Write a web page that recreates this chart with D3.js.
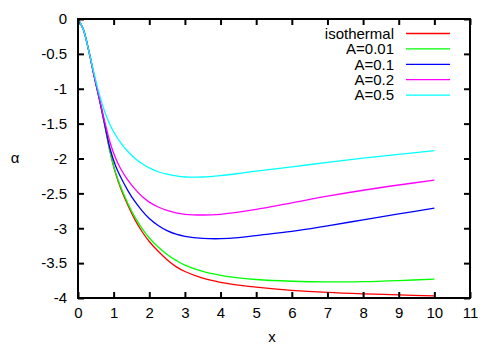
<!DOCTYPE html>
<html>
<head>
<meta charset="utf-8">
<script src="https://cdn.jsdelivr.net/npm/d3@7"></script>
<style>
  html, body { margin: 0; padding: 0; background: #fff; }
  svg text { font-family: "Liberation Sans", Arial, sans-serif; font-size: 15px; fill: #000; }
</style>
</head>
<body>
<svg id="chart" width="498" height="349"></svg>
<script>
/* Données */
var xs         = [0, 0.15, 0.3, 0.45, 0.6, 0.75, 0.9, 1.05, 1.2, 1.4, 1.6, 1.8, 2, 2.25, 2.5, 2.75, 3, 3.5, 4, 4.5, 5, 6, 7, 8, 9, 10];
var isothermal = [0, -0.15, -0.45, -0.81, -1.15, -1.52, -1.905, -2.205, -2.43, -2.67, -2.88, -3.05, -3.19, -3.33, -3.45, -3.55, -3.62, -3.715, -3.775, -3.815, -3.845, -3.89, -3.92, -3.94, -3.955, -3.97];
var a001       = [0, -0.15, -0.45, -0.81, -1.15, -1.52, -1.9, -2.195, -2.41, -2.645, -2.845, -3.005, -3.14, -3.27, -3.375, -3.46, -3.53, -3.62, -3.675, -3.71, -3.735, -3.76, -3.77, -3.765, -3.75, -3.73];
var a01        = [0, -0.15, -0.45, -0.81, -1.15, -1.51, -1.86, -2.1, -2.27, -2.46, -2.62, -2.75, -2.86, -2.96, -3.035, -3.085, -3.115, -3.145, -3.15, -3.135, -3.105, -3.045, -2.965, -2.88, -2.795, -2.71];
var a02        = [0, -0.15, -0.45, -0.81, -1.14, -1.47, -1.77, -1.99, -2.15, -2.31, -2.44, -2.545, -2.625, -2.695, -2.745, -2.78, -2.8, -2.81, -2.8, -2.77, -2.73, -2.635, -2.54, -2.455, -2.38, -2.31];
var a05        = [0, -0.15, -0.45, -0.78, -1.08, -1.33, -1.52, -1.66, -1.775, -1.9, -2.0, -2.075, -2.135, -2.19, -2.225, -2.25, -2.265, -2.265, -2.245, -2.215, -2.18, -2.12, -2.055, -1.995, -1.94, -1.888];

var seriesNames  = ['isothermal', 'A=0.01', 'A=0.1', 'A=0.2', 'A=0.5'];
var seriesValues = [isothermal, a001, a01, a02, a05];
var colors       = ['#ff0000', '#00ff00', '#0000ff', '#ff00ff', '#00ffff'];

var xTicks = d3.range(0, 12, 1);
var yTicks = d3.range(0, -4.5, -0.5);

(function () {
  'use strict';

  var svg = d3.select('#chart');
  var left = 78, right = 470, top = 19, bottom = 298;

  var x = d3.scaleLinear().domain([0, 11]).range([left, right]);
  var y = d3.scaleLinear().domain([-4, 0]).range([bottom, top]);

  /* ── Courbes ───────────────────────────────────────────── */
  var line = d3.line()
    .x(function (d) { return x(d[0]); })
    .y(function (d) { return y(d[1]); })
    .curve(d3.curveCatmullRom.alpha(0.5));

  seriesValues.forEach(function (vals, i) {
    var pts = xs.map(function (xv, j) { return [xv, vals[j]]; });
    svg.append('path')
      .attr('d', line(pts))
      .attr('fill', 'none')
      .attr('stroke', colors[i])
      .attr('stroke-width', 1.3);
  });

  /* ── Axes (ticks vers l'intérieur, miroir haut/droite) ─── */
  var tickLen = 6;
  function fmt(v) { return v === 0 ? '0' : String(v); }

  svg.append('g')
    .attr('transform', 'translate(0,' + bottom + ')')
    .call(d3.axisBottom(x).tickValues(xTicks).tickSizeInner(-tickLen).tickSizeOuter(0).tickPadding(9).tickFormat(fmt));
  svg.append('g')
    .attr('transform', 'translate(0,' + top + ')')
    .call(d3.axisTop(x).tickValues(xTicks).tickSizeInner(-tickLen).tickSizeOuter(0).tickFormat(''));
  svg.append('g')
    .attr('transform', 'translate(' + left + ',0)')
    .call(d3.axisLeft(y).tickValues(yTicks).tickSizeInner(-tickLen).tickSizeOuter(0).tickPadding(11).tickFormat(fmt));
  svg.append('g')
    .attr('transform', 'translate(' + right + ',0)')
    .call(d3.axisRight(y).tickValues(yTicks).tickSizeInner(-tickLen).tickSizeOuter(0).tickFormat(''));

  svg.selectAll('.tick line').attr('stroke', '#000').attr('stroke-width', 2);
  svg.selectAll('.domain').remove();
  svg.selectAll('.tick text')
    .style('font-family', '"Liberation Sans", Arial, sans-serif')
    .style('font-size', '15px')
    .attr('fill', '#000');

  /* Cadre */
  svg.append('rect')
    .attr('x', left).attr('y', top)
    .attr('width', right - left).attr('height', bottom - top)
    .attr('fill', 'none').attr('stroke', '#000').attr('stroke-width', 2);

  /* ── Titres d'axes ─────────────────────────────────────── */
  svg.append('text').attr('x', (left + right) / 2 - 2).attr('y', 342)
    .attr('text-anchor', 'middle').text('x');
  svg.append('text').attr('x', 15).attr('y', 163)
    .attr('text-anchor', 'middle').text('α');

  /* ── Légende ───────────────────────────────────────────── */
  var legendTop = 33.5, legendStep = 15.4;
  seriesNames.forEach(function (name, i) {
    var ly = legendTop + i * legendStep;
    svg.append('text')
      .attr('x', 394).attr('y', ly).attr('dy', '0.35em')
      .attr('text-anchor', 'end').text(name);
    svg.append('line')
      .attr('x1', 406).attr('x2', 450).attr('y1', ly).attr('y2', ly)
      .attr('stroke', colors[i]).attr('stroke-width', 1.3);
  });
})();
</script>
</body>
</html>
